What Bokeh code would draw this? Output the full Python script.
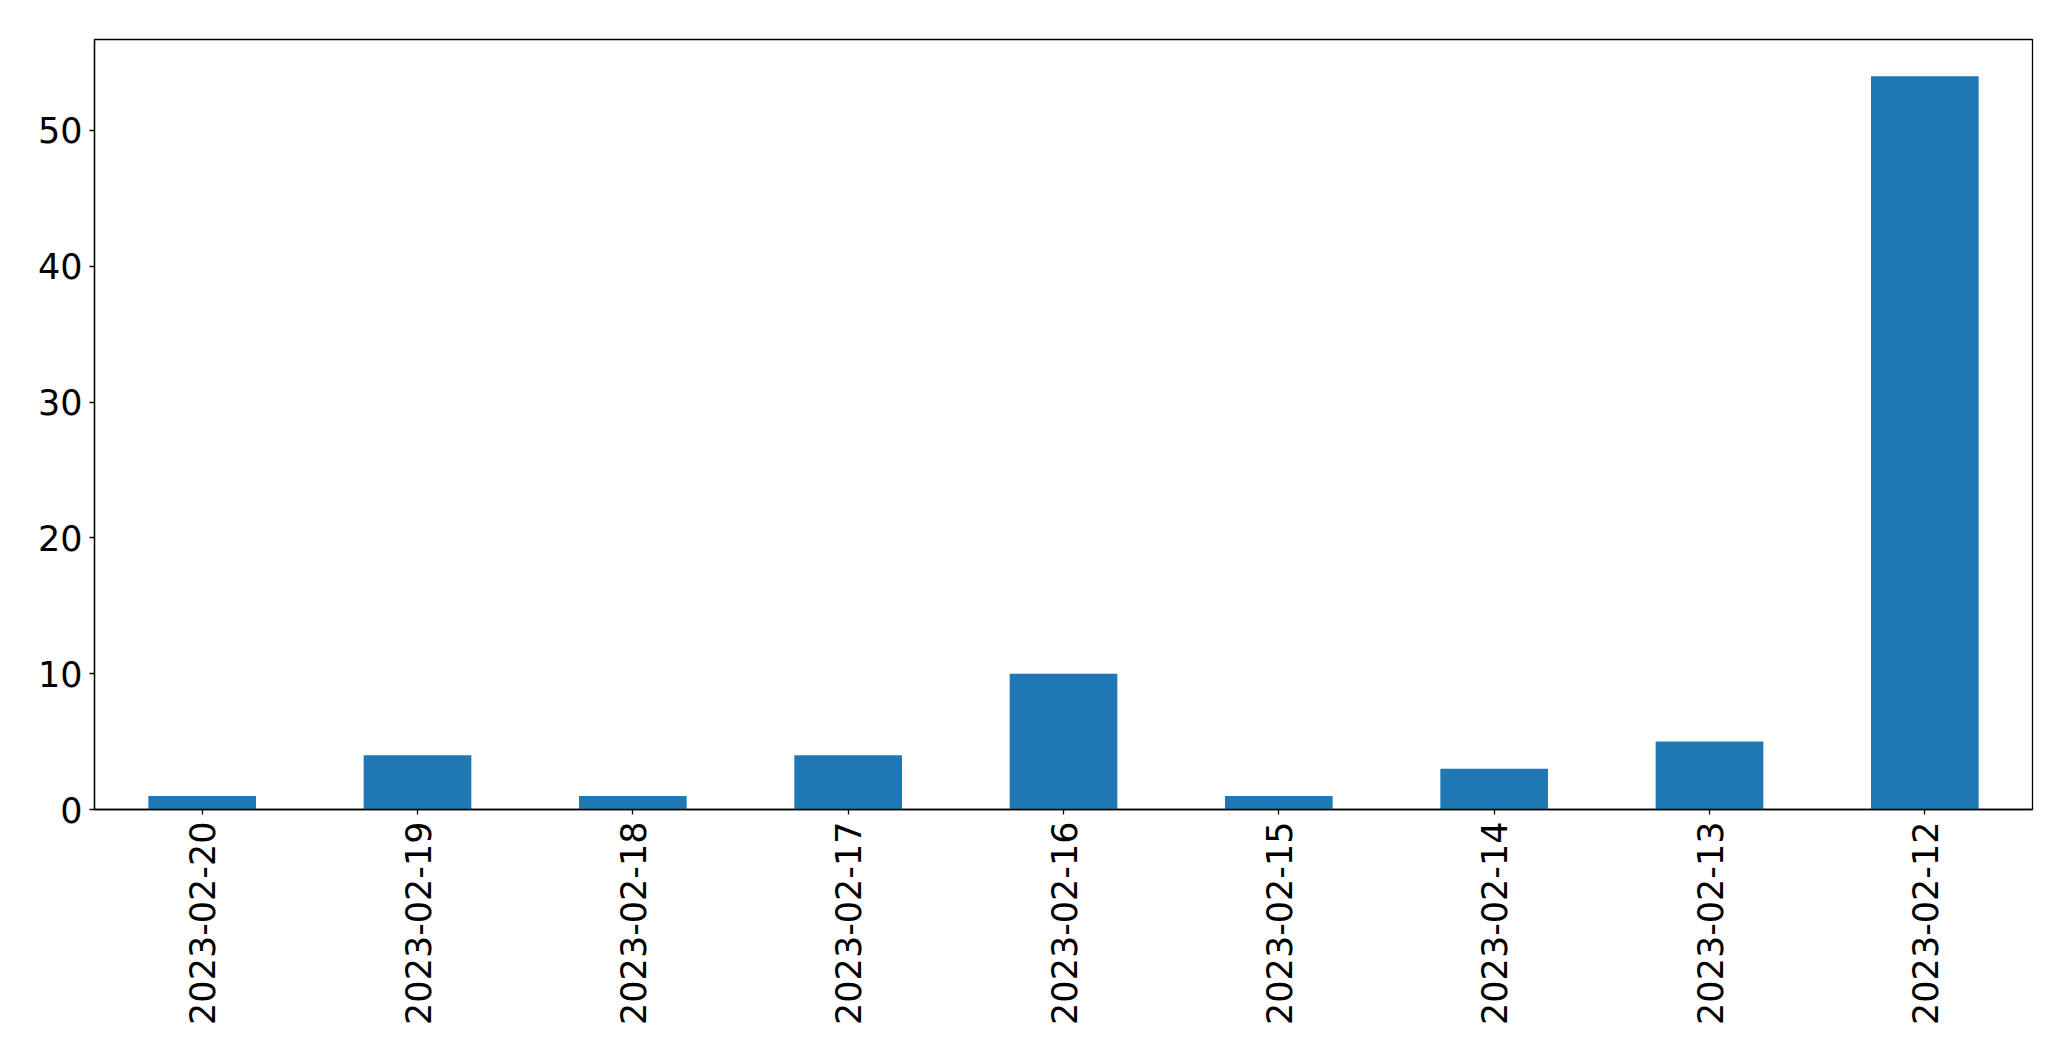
import math
from bokeh.plotting import figure
from bokeh.models import FactorRange, Range1d, FixedTicker, ColumnDataSource
from bokeh.embed import file_html
from bokeh.resources import INLINE

dates = ["2023-02-20", "2023-02-19", "2023-02-18", "2023-02-17", "2023-02-16",
         "2023-02-15", "2023-02-14", "2023-02-13", "2023-02-12"]
counts = [1, 4, 1, 4, 10, 1, 3, 5, 54]
y_ticks = [0, 10, 20, 30, 40, 50]

src = ColumnDataSource(dict(x=dates, top=counts))

p = figure(x_range=FactorRange(*dates), y_range=Range1d(0, max(counts) * 1.05),
           frame_width=1938, frame_height=770,
           min_border_left=94, min_border_top=39, min_border_right=23, min_border_bottom=236,
           output_backend="svg", toolbar_location=None)

p.vbar(x="x", top="top", width=0.5, source=src, fill_color="#1f77b4", line_color=None)

p.xgrid.visible = False
p.ygrid.visible = False
p.outline_line_color = "black"
p.outline_line_width = 1.3

p.yaxis.ticker = FixedTicker(ticks=y_ticks)
for ax in (p.xaxis, p.yaxis):
    ax.axis_line_color = "black"
    ax.axis_line_width = 1.3
    ax.major_tick_line_color = "black"
    ax.major_tick_line_width = 1.3
    ax.major_tick_out = 5
    ax.major_tick_in = 0
    ax.minor_tick_line_color = None
    ax.major_label_text_font = "DejaVu Sans"
    ax.major_label_text_font_size = "35px"
    ax.major_label_text_color = "black"

p.xaxis.major_label_orientation = math.pi / 2
p.xaxis.major_label_standoff = 7
p.yaxis.major_label_standoff = 7

open("out.html", "w").write(file_html(p, INLINE))
